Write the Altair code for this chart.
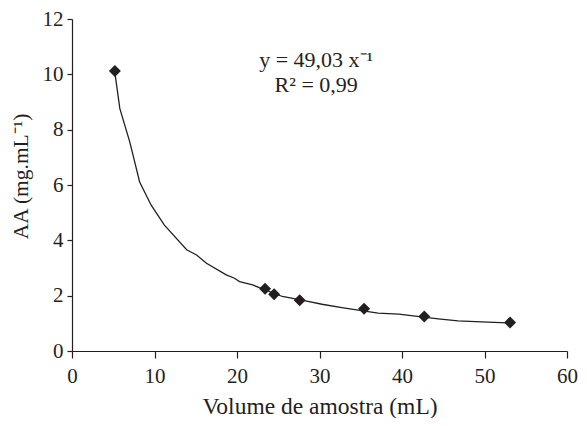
import altair as alt
import pandas as pd

# measured points
vol = [5.2, 23.4, 24.5, 27.6, 35.4, 42.7, 53.1]
aa = [10.12, 2.25, 2.05, 1.83, 1.53, 1.25, 1.03]

# trend curve
curve_x = [5.2, 5.8, 7.0, 8.2, 9.6, 11.2, 13.9, 15.1, 16.3, 18.7, 19.7, 20.3, 21.9,
           22.7, 25.5, 28.3, 30.3, 32.7, 37.1, 39.6, 44.4, 46.8, 49.6, 52.8]
curve_y = [10.05, 8.76, 7.56, 6.11, 5.27, 4.55, 3.66, 3.47, 3.17, 2.75, 2.63, 2.51, 2.39,
           2.29, 1.97, 1.81, 1.69, 1.57, 1.37, 1.33, 1.16, 1.09, 1.05, 1.02]

ann_text = ["y = 49,03 x⁻¹", "R² = 0,99"]
ann_x = [29.6, 29.6]
ann_y = [10.27, 9.37]

pts = pd.DataFrame({"x": vol, "y": aa})
crv = pd.DataFrame({"x": curve_x, "y": curve_y, "o": list(range(len(curve_x)))})
ann = pd.DataFrame({"t": ann_text, "x": ann_x, "y": ann_y})

FONT = "Liberation Serif"
INK = "#231f20"

xs = alt.Scale(domain=[0, 60], nice=False)
ys = alt.Scale(domain=[0, 12], nice=False)

xax = alt.Axis(values=[0, 10, 20, 30, 40, 50, 60], title="Volume de amostra (mL)", grid=False,
               tickSize=7, labelPadding=7, labelFlush=False, titleFontSize=23.5,
               titleY=62, titleBaseline="alphabetic")
yax = alt.Axis(values=[0, 2, 4, 6, 8, 10, 12], title="AA (mg.mL⁻¹)", grid=False,
               tickSize=5, labelPadding=4, titlePadding=10, labelFlush=False, titleFontSize=21.5,
               titleY=157)

line = alt.Chart(crv).mark_line(color=INK, strokeWidth=1.3).encode(
    x=alt.X("x:Q", scale=xs, axis=xax),
    y=alt.Y("y:Q", scale=ys, axis=yax),
    order="o:Q",
)

points = alt.Chart(pts).mark_point(shape="diamond", filled=True, size=144, color=INK, opacity=1).encode(
    x=alt.X("x:Q", scale=xs),
    y=alt.Y("y:Q", scale=ys),
)

text = alt.Chart(ann).mark_text(font=FONT, fontSize=22, color=INK, align="center", baseline="alphabetic").encode(
    x=alt.X("x:Q", scale=xs),
    y=alt.Y("y:Q", scale=ys),
    text="t:N",
)

chart = (line + points + text).properties(
    width=495, height=332,
    autosize=alt.AutoSizeParams(type="none"),
    padding={"left": 64, "top": 11, "right": 12, "bottom": 67},
    background="white",
).configure_view(stroke=None).configure_axis(
    labelFont=FONT, titleFont=FONT, labelFontSize=21,
    labelColor=INK, titleColor=INK, domainColor=INK, tickColor=INK,
    titleFontWeight="normal", domainWidth=1.2, tickWidth=1.2,
)

chart.save("out.html", embed_options={"renderer": "svg", "actions": False})
